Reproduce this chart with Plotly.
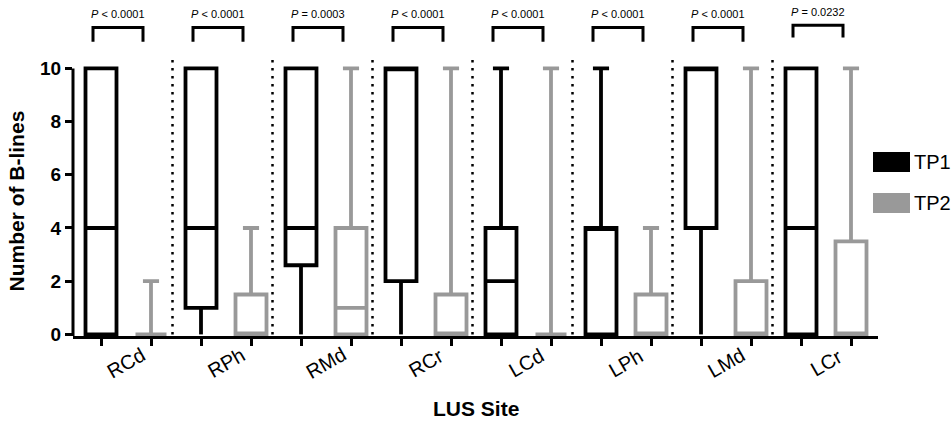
import plotly.graph_objects as go

# ---------------- data ----------------
sites = ["RCd", "RPh", "RMd", "RCr", "LCd", "LPh", "LMd", "LCr"]

tp1_low = [0, 0, 0, 0, 0, 0, 0, 0]
tp1_q1 = [0, 1, 2.6, 2, 0, 0, 4, 0]
tp1_med = [4, 4, 4, 10, 2, 4, 10, 4]
tp1_q3 = [10, 10, 10, 10, 4, 4, 10, 10]
tp1_high = [10, 10, 10, 10, 10, 10, 10, 10]

tp2_low = [0, 0, 0, 0, 0, 0, 0, 0]
tp2_q1 = [0, 0, 0, 0, 0, 0, 0, 0]
tp2_med = [0, 0, 1, 0, 0, 0, 0, 0]
tp2_q3 = [0, 1.5, 4, 1.5, 0, 1.5, 2, 3.5]
tp2_high = [2, 4, 10, 10, 10, 4, 10, 10]

p_labels = ["< 0.0001", "< 0.0001", "= 0.0003", "< 0.0001",
            "< 0.0001", "< 0.0001", "< 0.0001", "= 0.0232"]

y_ticks = [0, 2, 4, 6, 8, 10]

# ---------------- style ----------------
FONT = "Liberation Sans, Arial, sans-serif"
BLACK = "#000000"
GRAY = "#999999"
W, H = 951, 423
ML, MR, MT, MB = 73, 73, 4, 87
YMIN, YMAX = -0.06, 12.42
XMIN, XMAX = -0.56, 15.54
LW = 3.8

n = len(sites)
x1 = [2 * i for i in range(n)]
x2 = [2 * i + 1 for i in range(n)]

fig = go.Figure()
for xs, lo, q1, md, q3, hi, col, name in [
    (x1, tp1_low, tp1_q1, tp1_med, tp1_q3, tp1_high, BLACK, "TP1"),
    (x2, tp2_low, tp2_q1, tp2_med, tp2_q3, tp2_high, GRAY, "TP2"),
]:
    # lower whiskers drawn without caps
    wx, wy = [], []
    for xv, l, q in zip(xs, lo, q1):
        if l < q:
            wx += [xv, xv, None]
            wy += [l, q, None]
    if wx:
        fig.add_trace(go.Scatter(x=wx, y=wy, mode="lines",
                                 line=dict(color=col, width=LW),
                                 showlegend=False, hoverinfo="skip"))
    fig.add_trace(go.Box(
        x=xs, q1=q1, median=md, q3=q3, lowerfence=q1, upperfence=hi,
        name=name, boxpoints=False, width=0.62, whiskerwidth=0.52,
        line=dict(color=col, width=LW), fillcolor="rgba(255,255,255,0)",
        showlegend=False, hoverinfo="skip",
    ))

shapes = []
annotations = []

# y axis line (only 0..10)
shapes.append(dict(type="line", xref="paper", yref="y", x0=0, x1=0,
                   y0=YMIN, y1=10, line=dict(color=BLACK, width=3)))

# dotted separators
for i in range(n - 1):
    xv = 2 * i + 1.43
    shapes.append(dict(type="line", xref="x", yref="y", x0=xv, x1=xv,
                       y0=0, y1=10.35,
                       line=dict(color=BLACK, width=2.5, dash="2.5px,5.5px")))

# significance brackets
for i in range(n):
    lift = 0.08 if i == n - 1 else 0.0
    a = 2 * i - 0.16
    b = 2 * i + 1 - 0.16
    yb = 11.0 + lift * 2
    yt = 11.54 + lift
    shapes.append(dict(type="path", xref="x", yref="y",
                       path=f"M {a},{yb} L {a},{yt} L {b},{yt} L {b},{yb}",
                       line=dict(color=BLACK, width=3)))
    annotations.append(dict(x=(a + b) / 2, y=12.03 + lift, xref="x", yref="y",
                            text=f"<i>P</i> {p_labels[i]}", showarrow=False,
                            font=dict(family=FONT, size=11, color=BLACK),
                            xanchor="center", yanchor="middle"))

# category labels
for i, s in enumerate(sites):
    annotations.append(dict(x=2 * i + 0.5, y=0, xref="x", yref="paper",
                            yshift=-27, text=s, textangle=-30, showarrow=False,
                            font=dict(family=FONT, size=20, color=BLACK),
                            xanchor="center", yanchor="middle"))

# axis titles
annotations.append(dict(x=0.5, y=0, xref="paper", yref="paper", yshift=-72,
                        text="<b>LUS Site</b>", showarrow=False,
                        font=dict(family=FONT, size=21, color=BLACK),
                        xanchor="center", yanchor="middle"))
annotations.append(dict(x=0, y=0.405, xref="paper", yref="paper", xshift=-56,
                        text="<b>Number of B-lines</b>", textangle=-90,
                        showarrow=False,
                        font=dict(family=FONT, size=21, color=BLACK),
                        xanchor="center", yanchor="middle"))

# legend
pw = W - ML - MR
ph = H - MT - MB


def px(xp):
    return (xp - ML) / pw


def py(yp):
    return (H - MB - yp) / ph


for (name, col, top) in [("TP1", BLACK, 152), ("TP2", GRAY, 193)]:
    shapes.append(dict(type="rect", xref="paper", yref="paper",
                       x0=px(873), x1=px(910), y0=py(top + 20), y1=py(top),
                       fillcolor=col, line=dict(width=0)))
    annotations.append(dict(x=px(912), y=py(top + 10), xref="paper",
                            yref="paper", text=name, showarrow=False,
                            font=dict(family=FONT, size=20, color=BLACK),
                            xanchor="left", yanchor="middle"))

fig.update_layout(
    width=W, height=H,
    margin=dict(l=ML, r=MR, t=MT, b=MB, autoexpand=False),
    paper_bgcolor="white", plot_bgcolor="white",
    boxmode="overlay",
    showlegend=False,
    shapes=shapes, annotations=annotations,
    font=dict(family=FONT, color=BLACK),
    xaxis=dict(range=[XMIN, XMAX], tickvals=list(range(2 * n)),
               ticktext=[""] * (2 * n), ticks="outside", ticklen=7,
               tickwidth=2.5, tickcolor=BLACK, showline=True, linewidth=3,
               linecolor=BLACK, showgrid=False, zeroline=False,
               fixedrange=True),
    yaxis=dict(range=[YMIN, YMAX], tickvals=y_ticks,
               ticktext=[f"<b>{v}</b>" for v in y_ticks],
               ticks="outside", ticklen=7, tickwidth=2.5, tickcolor=BLACK,
               tickfont=dict(family=FONT, size=19, color=BLACK),
               showline=False, showgrid=False, zeroline=False,
               fixedrange=True),
)

fig.write_html("out.html",
               config={"displayModeBar": False},
               post_script="document.body.style.margin='0';"
                           "document.body.style.overflow='hidden';")
